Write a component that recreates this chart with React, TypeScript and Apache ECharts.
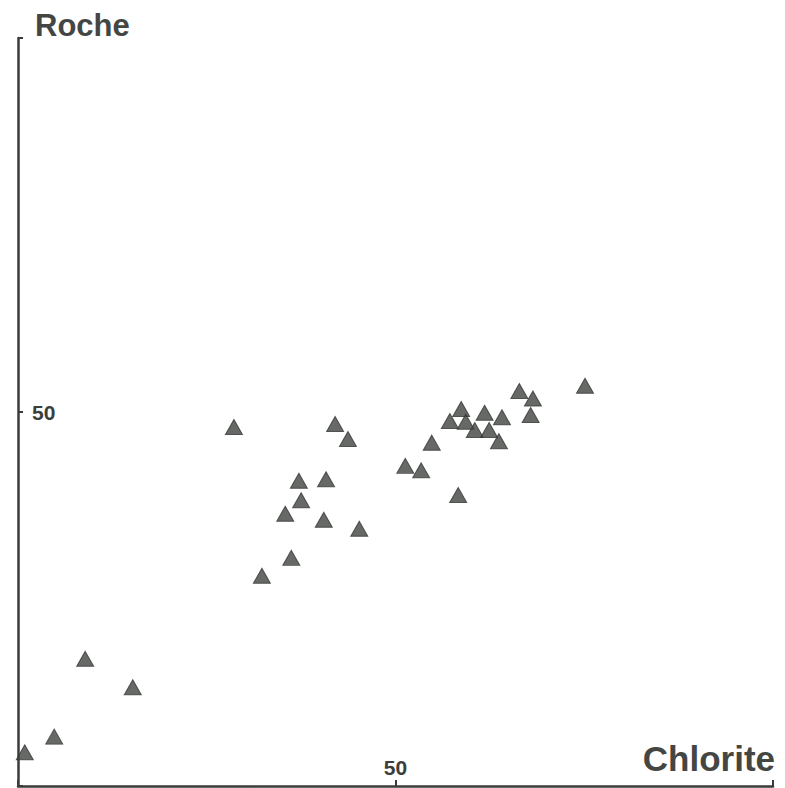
import React, { useEffect, useRef } from "react";
import * as echarts from "echarts";

const chloriteValues: number[] = [
  0.9, 4.8, 8.9, 15.2, 28.6, 42.0, 43.7, 37.2, 40.8, 37.5, 35.4, 40.5, 45.2, 36.2, 32.3,
  51.3, 53.4, 54.8, 58.3, 57.2, 58.7, 59.3, 60.5, 61.8, 62.4, 64.1, 63.7, 66.4, 68.2, 67.9, 75.1,
];
const rocheValues: number[] = [
  4.5, 6.6, 17.0, 13.2, 48.0, 48.4, 46.4, 40.8, 41.0, 38.2, 36.4, 35.6, 34.4, 30.5, 28.1,
  42.8, 42.2, 45.9, 38.9, 48.8, 50.4, 48.7, 47.6, 49.9, 47.6, 49.3, 46.1, 52.8, 51.8, 49.6, 53.5,
];
const tickLabels: string[] = ["50"];
const xAxisTitle = "Chlorite";
const yAxisTitle = "Roche";

export default function App() {
  const ref = useRef<HTMLDivElement>(null);
  useEffect(() => {
    if (!ref.current) return;
    const chart = echarts.init(ref.current, undefined, { renderer: "svg" });
    const data = chloriteValues.map((x, i) => [x, rocheValues[i]]);
    const axisColor = "#3a3c3a";
    const textColor = "#3c3e3c";
    chart.setOption({
      animation: false,
      backgroundColor: "#ffffff",
      grid: { left: 18, right: 12, top: 38, bottom: 2, containLabel: false },
      xAxis: {
        type: "value",
        min: 0,
        max: 100,
        interval: 50,
        splitLine: { show: false },
        axisLine: { show: true, onZero: false, lineStyle: { color: axisColor, width: 2.5 } },
        axisTick: { show: true, inside: true, length: 6, lineStyle: { color: axisColor, width: 2 } },
        axisLabel: {
          show: true,
          inside: true,
          margin: 8,
          color: textColor,
          fontFamily: "Liberation Sans, Arial, sans-serif",
          fontWeight: "bold",
          fontSize: 21,
          formatter: (v: number) => (tickLabels.includes(String(v)) ? String(v) : ""),
        },
      },
      yAxis: {
        type: "value",
        min: 0,
        max: 100,
        interval: 50,
        splitLine: { show: false },
        axisLine: { show: true, onZero: false, lineStyle: { color: axisColor, width: 2.5 } },
        axisTick: { show: true, inside: true, length: 5, lineStyle: { color: axisColor, width: 2 } },
        axisLabel: {
          show: true,
          inside: true,
          margin: 14,
          color: textColor,
          fontFamily: "Liberation Sans, Arial, sans-serif",
          fontWeight: "bold",
          fontSize: 21,
          formatter: (v: number) => (tickLabels.includes(String(v)) ? String(v) : ""),
        },
      },
      graphic: [
        {
          type: "text",
          left: 35,
          top: 10,
          style: {
            text: yAxisTitle,
            fill: "#444644",
            font: "bold 31px 'Liberation Sans', Arial, sans-serif",
          },
        },
        {
          type: "text",
          right: 10,
          top: 741,
          style: {
            text: xAxisTitle,
            fill: "#444644",
            font: "bold 35px 'Liberation Sans', Arial, sans-serif",
          },
        },
      ],
      series: [
        {
          type: "scatter",
          data,
          symbol: "triangle",
          symbolSize: [17, 15],
          itemStyle: { color: "#404440", borderColor: "#363a36", borderWidth: 1 },
        },
      ],
    });
    return () => chart.dispose();
  }, []);
  return (
    <div
      ref={ref}
      style={{ position: "fixed", left: 0, top: 0, width: 785, height: 788 }}
    />
  );
}
